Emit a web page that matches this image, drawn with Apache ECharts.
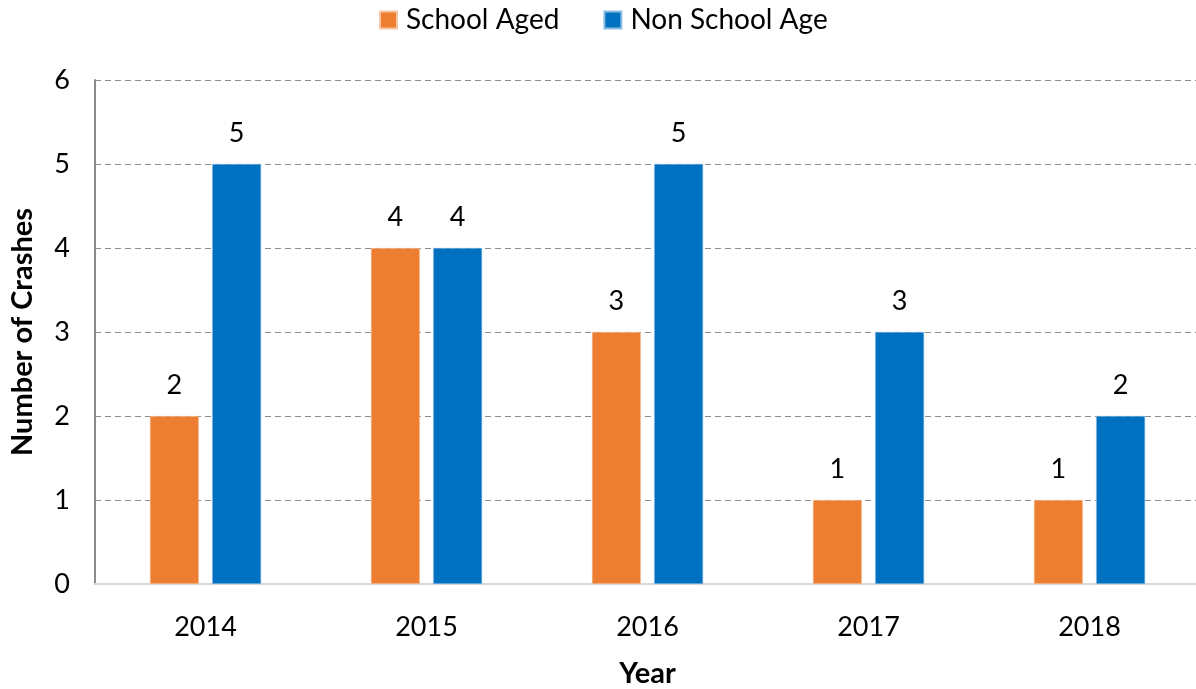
<!DOCTYPE html>
<html>
<head>
<meta charset="utf-8">
<script src="https://cdn.jsdelivr.net/npm/echarts@6/dist/echarts.min.js"></script>
<style>
  html, body { margin: 0; padding: 0; background: #fff; }
  #chart { width: 1196px; height: 689px; }
</style>
</head>
<body>
<div id="chart"></div>
<script>
// Crash counts per year, split by age group
const years = ['2014', '2015', '2016', '2017', '2018'];
const schoolAged = [2, 4, 3, 1, 1];
const nonSchoolAge = [5, 4, 5, 3, 2];
const yTicks = [0, 1, 2, 3, 4, 5, 6];

const FONT = 'Lato, "Open Sans", sans-serif';

const chart = echarts.init(document.getElementById('chart'), null, { renderer: 'canvas' });

const labelStyle = {
  show: true,
  position: 'top',
  distance: 17,
  color: '#000',
  fontFamily: FONT,
  fontSize: 27
};

chart.setOption({
  animation: false,
  textStyle: { fontFamily: FONT },
  legend: {
    top: 6,
    left: 379,
    padding: 0,
    itemWidth: 17,
    itemHeight: 17,
    itemGap: 44,
    icon: 'rect',
    textStyle: { fontFamily: FONT, fontSize: 28, color: '#000', padding: [0, 0, 0, 4] },
    data: ['School Aged', 'Non School Age']
  },
  grid: { left: 95, right: -4, top: 80, bottom: 105, containLabel: false, outerBoundsMode: 'none' },
  xAxis: {
    type: 'category',
    data: years,
    name: 'Year',
    nameLocation: 'middle',
    nameGap: 75,
    nameTextStyle: { fontFamily: FONT, fontSize: 29, fontWeight: 'bold', color: '#000' },
    axisLine: { show: true, lineStyle: { color: '#d9d9d9', width: 2 } },
    axisTick: { show: false },
    axisLabel: { color: '#000', fontFamily: FONT, fontSize: 27, margin: 30 }
  },
  yAxis: {
    type: 'value',
    min: yTicks[0],
    max: yTicks[yTicks.length - 1],
    interval: 1,
    name: 'Number of Crashes',
    nameLocation: 'middle',
    nameGap: 58,
    nameRotate: 90,
    nameTextStyle: { fontFamily: FONT, fontSize: 29, fontWeight: 'bold', color: '#000' },
    axisLine: { show: true, lineStyle: { color: '#8c8c8c', width: 2 } },
    axisTick: { show: false },
    axisLabel: { color: '#000', fontFamily: FONT, fontSize: 27, margin: 25 },
    splitLine: { show: true, lineStyle: { color: '#8c8c8c', width: 1, type: [6, 4] } }
  },
  series: [
    {
      name: 'School Aged',
      type: 'bar',
      data: schoolAged,
      barWidth: 49,
      barGap: '27%',
      itemStyle: { color: '#ED7D31', borderColor: '#f6c7a6', borderWidth: 0.6 },
      label: labelStyle
    },
    {
      name: 'Non School Age',
      type: 'bar',
      data: nonSchoolAge,
      barWidth: 49,
      itemStyle: { color: '#0070C0', borderColor: '#8cbde4', borderWidth: 0.6 },
      label: labelStyle
    }
  ]
});
</script>
</body>
</html>
